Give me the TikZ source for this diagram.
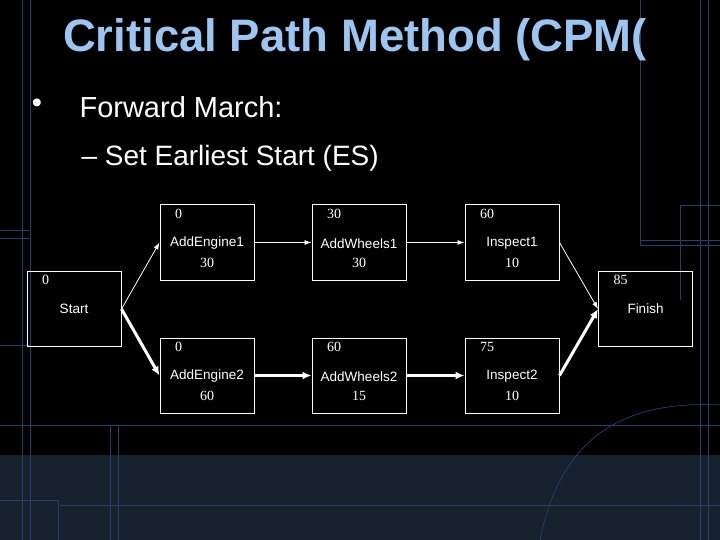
\documentclass[tikz,border=0pt]{standalone}
\usepackage{fontspec}
\setmainfont{Liberation Sans}
\newfontfamily\numfont{Liberation Serif}
\usetikzlibrary{arrows.meta}
\definecolor{titleblue}{HTML}{9EC4F0}
\definecolor{gridblue}{HTML}{2A3E6A}
\definecolor{bandblue}{HTML}{18222F}
\begin{document}
\begin{tikzpicture}[x=1pt,y=-1pt,
  box/.style={draw=white,line width=1pt,minimum width=94pt,minimum height=75pt,inner sep=0pt},
  lab/.style={text=white,font=\fontsize{13.5}{15}\selectfont},
  num/.style={text=white,font=\numfont\fontsize{14}{15}\selectfont},
  thin/.style={draw=white,line width=0.8pt,-{Latex[length=7pt,width=5pt]}},
  thick/.style={draw=white,line width=3pt,-{Latex[length=9pt,width=8pt]}},
  grid/.style={draw=gridblue,line width=0.7pt}]
\useasboundingbox (0,0) rectangle (720,540);
\fill[black] (0,0) rectangle (720,540);
\fill[bandblue] (0,455) rectangle (720,540);
% faint background lines
\draw[grid] (22,0)--(22,540) (30,0)--(30,540) (0,230)--(30,230) (0,238)--(30,238) (0,345)--(30,345);
\draw[grid] (0,425)--(720,425) (60,505)--(720,505) (110,425)--(110,540) (118,425)--(118,540) (0,500)--(58,500)--(58,540);
\draw[grid] (640,0)--(640,245) (700,0)--(700,540) (708,0)--(708,540) (640,240)--(720,240) (640,245)--(720,245) (680,205)--(720,205) (680,205)--(680,300);
\draw[grid] (540,540) .. controls (560,440) and (620,400) .. (720,405);
% title
\node[text=titleblue,font=\bfseries\fontsize{45.5}{50}\selectfont] (title) at (355,40) {Critical Path Method (CPM(};
\node[text=white,font=\fontsize{29}{34}\selectfont] (bul) at (37,106) {\textbullet};
\node[anchor=west,text=white,font=\fontsize{29}{34}\selectfont] (b1) at (76,107) {Forward March:};
\node[anchor=west,text=white,font=\fontsize{28}{32}\selectfont] (b2) at (78,158) {-- Set Earliest Start (ES)};
% boxes
\node[box] (st) at (74,309) {};
\node[box] (e1) at (207,242.5) {};
\node[box] (w1) at (359,242.5) {};
\node[box] (i1) at (512,242.5) {};
\node[box] (e2) at (207,375.5) {};
\node[box] (w2) at (359,375.5) {};
\node[box] (i2) at (512,375.5) {};
\node[box] (fi) at (645.5,309) {};
% contents
\foreach \n/\es/\name/\d in {e1/0/AddEngine1/30,w1/30/AddWheels1/30,i1/60/Inspect1/10,e2/0/AddEngine2/60,w2/60/AddWheels2/15,i2/75/Inspect2/10}{
  \node[num,anchor=west] (\n es) at ([xshift=12pt,yshift=-9pt]\n.north west) {\es};
  \node[lab] (\n nm) at ([yshift=-1pt]\n.center) {\name};
  \node[num] (\n d) at ([yshift=-20pt]\n.center) {\d};
}
\node[num,anchor=west] (stes) at ([xshift=12pt,yshift=-9pt]st.north west) {0};
\node[lab] (stnm) at (st.center) {Start};
\node[num,anchor=west] (fies) at ([xshift=12pt,yshift=-9pt]fi.north west) {85};
\node[lab] (finm) at (fi.center) {Finish};
% arrows
\draw[thin] (st.east) -- (e1.west);
\draw[thin] (e1.east) -- (w1.west);
\draw[thin] (w1.east) -- (i1.west);
\draw[thin] (i1.east) -- (fi.west);
\draw[thick] (st.east) -- (e2.west);
\draw[thick] (e2.east) -- (w2.west);
\draw[thick] (w2.east) -- (i2.west);
\draw[thick] (i2.east) -- (fi.west);
\end{tikzpicture}
\end{document}
